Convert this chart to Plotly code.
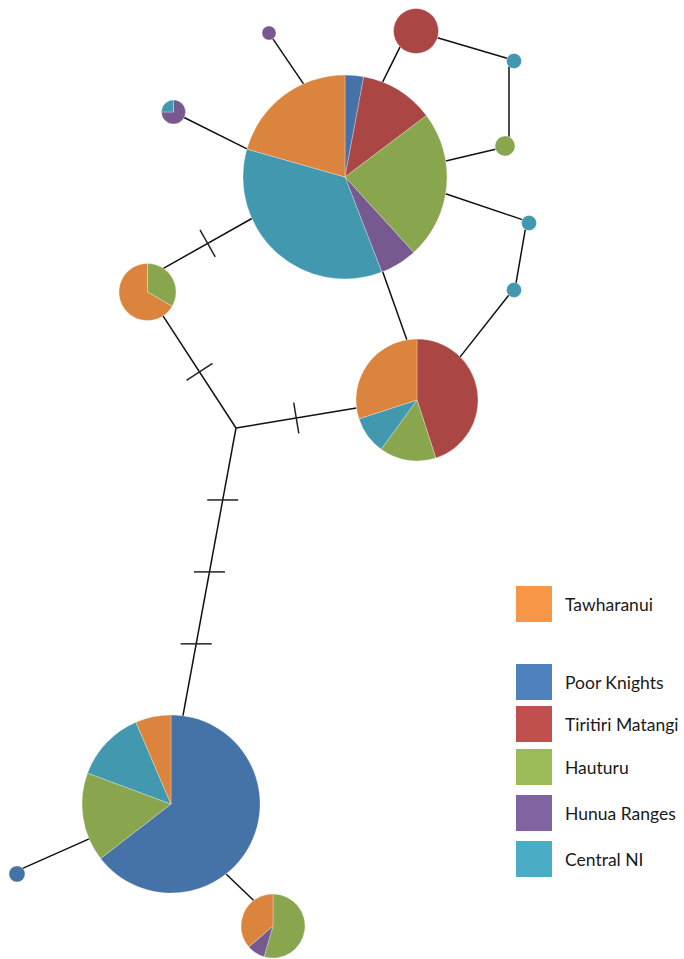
import math
import plotly.graph_objects as go

W, H = 684, 959

# Sampled populations, in slice order (clockwise from 12 o'clock)
populations = ["Poor Knights", "Tiritiri Matangi", "Hauturu", "Hunua Ranges", "Central NI", "Tawharanui"]
pie_colors = ["#4572A7", "#AA4643", "#89A54E", "#75598F", "#4198AF", "#DB843D"]

# Number of individuals carrying each haplotype, per population (same order as above)
hap_A = [1, 4, 8, 2, 12, 7]   # central common haplotype
hap_B = [0, 9, 3, 0, 2, 6]
hap_C = [0, 0, 1, 0, 0, 2]
hap_D = [20, 0, 5, 0, 4, 2]   # southern common haplotype
hap_E = [0, 0, 6, 1, 0, 4]
hap_F = [0, 0, 0, 1, 0, 0]
hap_G = [0, 3, 0, 0, 0, 0]
hap_H = [0, 0, 0, 0, 1, 0]
hap_I = [0, 0, 1, 0, 0, 0]
hap_J = [0, 0, 0, 0, 1, 0]
hap_K = [0, 0, 0, 0, 1, 0]
hap_L = [0, 0, 0, 3, 1, 0]
hap_M = [1, 0, 0, 0, 0, 0]

haplotypes = {
    "A": hap_A, "B": hap_B, "C": hap_C, "D": hap_D, "E": hap_E, "F": hap_F, "G": hap_G,
    "H": hap_H, "I": hap_I, "J": hap_J, "K": hap_K, "L": hap_L, "M": hap_M,
}

# Network layout: node centre (x, y) and drawn radius, in pixels
node_layout = {
    "A": (345, 177, 102),
    "B": (417, 400, 61),
    "C": (147.5, 292, 28.5),
    "D": (171, 804, 89),
    "E": (273, 926, 32),
    "F": (269, 33, 7),
    "G": (416, 31, 22.5),
    "H": (514, 61, 7.5),
    "I": (505, 146, 10),
    "J": (529, 223, 7.5),
    "K": (514, 290, 7.5),
    "L": (173.5, 112, 12),
    "M": (17, 874, 8),
    "mv": (236, 428, 0),      # median vector (unsampled)
}

# Network edges: (node, attach angle, node, attach angle, mutation steps, tick orientation)
edges = [
    ("F", 56, "A", 246, 0, "perp"),
    ("G", 135, "A", 291.6, 0, "perp"),
    ("G", 17.6, "H", 202, 0, "perp"),
    ("H", 131.8, "I", 293.5, 0, "perp"),
    ("I", 161.6, "A", 351, 0, "perp"),
    ("A", 9.5, "J", 206.6, 0, "perp"),
    ("J", 119.7, "K", 286, 0, "perp"),
    ("K", 135, "B", 315, 0, "perp"),
    ("A", 68.3, "B", 260.4, 0, "perp"),
    ("L", 27.5, "A", 196, 0, "perp"),
    ("A", 156, "C", 304, 1, "perp"),
    ("C", 57, "mv", 0, 1, "perp"),
    ("mv", 0, "B", 172.5, 1, "perp"),
    ("mv", 0, "D", 277.7, 3, "horiz"),
    ("D", 156.9, "M", 315, 0, "perp"),
    ("D", 51.8, "E", 233, 0, "perp"),
]

# Legend entries
legend_labels = ["Tawharanui", "Poor Knights", "Tiritiri Matangi", "Hauturu", "Hunua Ranges", "Central NI"]
legend_colors = ["#F79646", "#4F81BD", "#C0504D", "#9BBB59", "#8064A2", "#4BACC6"]
legend_y = [604, 682, 724, 767, 813, 859]
legend_x = 534
TICK_HALF = 15.5


def attach(node, angle):
    cx, cy, r = node_layout[node]
    a = math.radians(angle)
    return cx + r * math.cos(a), cy + r * math.sin(a)


fig = go.Figure()

# Edges and mutation ticks
ex, ey, tx, ty = [], [], [], []
for n0, a0, n1, a1, steps, style in edges:
    x0, y0 = attach(n0, a0)
    x1, y1 = attach(n1, a1)
    ex += [x0, x1, None]
    ey += [y0, y1, None]
    dx, dy = x1 - x0, y1 - y0
    length = math.hypot(dx, dy)
    if style == "horiz":
        px, py = 1.0, 0.0
    else:
        px, py = -dy / length, dx / length
    for i in range(1, steps + 1):
        t = i / (steps + 1)
        mx, my = x0 + t * dx, y0 + t * dy
        tx += [mx - px * TICK_HALF, mx + px * TICK_HALF, None]
        ty += [my - py * TICK_HALF, my + py * TICK_HALF, None]

fig.add_trace(go.Scatter(x=ex, y=ey, mode="lines", line=dict(color="#111111", width=1.5),
                         hoverinfo="skip", showlegend=False))
fig.add_trace(go.Scatter(x=tx, y=ty, mode="lines", line=dict(color="#222222", width=1.5),
                         hoverinfo="skip", showlegend=False))

# Haplotype pies
for name, counts in haplotypes.items():
    cx, cy, r = node_layout[name]
    labels = [p for p, v in zip(populations, counts) if v > 0]
    values = [v for v in counts if v > 0]
    colors = [c for c, v in zip(pie_colors, counts) if v > 0]
    fig.add_trace(go.Pie(
        labels=labels, values=values,
        marker=dict(colors=colors, line=dict(color="rgba(255,255,255,0.35)", width=0.8)),
        sort=False, direction="clockwise", rotation=0,
        textinfo="none", hoverinfo="label+value", showlegend=False,
        domain=dict(x=[max(0, (cx - r) / W), min(1, (cx + r) / W)],
                    y=[max(0, 1 - (cy + r) / H), min(1, 1 - (cy - r) / H)]),
    ))

# Legend swatches and labels
fig.add_trace(go.Scatter(
    x=[legend_x] * len(legend_labels), y=legend_y, mode="markers",
    marker=dict(symbol="square", size=36, color=legend_colors, line=dict(width=0)),
    hoverinfo="skip", showlegend=False,
))
for lab, yy in zip(legend_labels, legend_y):
    fig.add_annotation(x=563, y=yy, text=lab, showarrow=False, xanchor="left", yanchor="middle",
                       font=dict(family="Lato, Liberation Sans, sans-serif", size=17.5, color="#1a1a1a"))

fig.update_layout(
    width=W, height=H,
    margin=dict(l=0, r=0, t=0, b=0),
    paper_bgcolor="white", plot_bgcolor="white",
    xaxis=dict(range=[0, W], visible=False, fixedrange=True),
    yaxis=dict(range=[H, 0], visible=False, fixedrange=True),
    showlegend=False,
)

fig.write_html("out.html")
